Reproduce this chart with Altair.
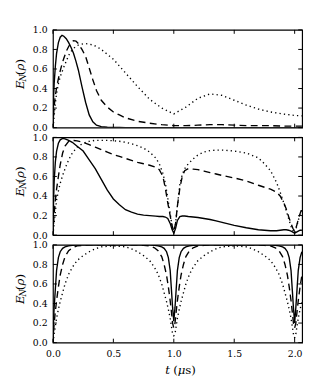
import altair as alt
import pandas as pd

# ---------------- data ----------------
# panel 1
T1 = [0, 0.005, 0.01, 0.02, 0.03, 0.045, 0.06, 0.075, 0.09, 0.11, 0.13, 0.15, 0.17, 0.19, 0.21,
      0.24, 0.27, 0.30, 0.33, 0.36, 0.40, 0.45, 0.50, 0.55, 0.60, 0.70, 0.80, 0.90, 1.0, 1.1,
      1.2, 1.3, 1.4, 1.5, 1.6, 1.7, 1.8, 1.9, 2.0, 2.06]
S1 = [0, 0.30, 0.45, 0.63, 0.76, 0.87, 0.925, 0.945, 0.935, 0.91, 0.87, 0.82, 0.76, 0.68, 0.59,
      0.42, 0.26, 0.13, 0.06, 0.025, 0.01, 0.004, 0.002, 0.001, 0, 0, 0, 0, 0, 0,
      0, 0, 0, 0, 0, 0, 0, 0, 0, 0]
D1 = [0, 0.12, 0.22, 0.33, 0.41, 0.50, 0.58, 0.65, 0.71, 0.78, 0.83, 0.87, 0.89, 0.885, 0.86,
      0.80, 0.73, 0.61, 0.49, 0.38, 0.28, 0.21, 0.16, 0.13, 0.10, 0.065, 0.045, 0.03, 0.02, 0.02,
      0.025, 0.03, 0.03, 0.025, 0.02, 0.02, 0.02, 0.015, 0.015, 0.015]
P1 = [0, 0.05, 0.12, 0.25, 0.35, 0.45, 0.52, 0.57, 0.62, 0.68, 0.74, 0.78, 0.81, 0.83, 0.845,
      0.855, 0.86, 0.855, 0.845, 0.83, 0.80, 0.75, 0.70, 0.63, 0.56, 0.42, 0.29, 0.20, 0.14, 0.21,
      0.30, 0.345, 0.33, 0.28, 0.23, 0.19, 0.16, 0.14, 0.125, 0.12]

# panel 2
T2 = [0, 0.005, 0.01, 0.02, 0.03, 0.045, 0.06, 0.08, 0.10, 0.13, 0.16, 0.20, 0.25, 0.30, 0.35,
      0.40, 0.45, 0.50, 0.55, 0.60, 0.65, 0.70, 0.75, 0.80, 0.85, 0.88, 0.91, 0.93, 0.95, 0.97,
      0.985, 1.0, 1.015, 1.03, 1.05, 1.07, 1.09, 1.12, 1.16, 1.20, 1.25, 1.30, 1.35, 1.40, 1.50,
      1.60, 1.70, 1.75, 1.80, 1.85, 1.88, 1.91, 1.93, 1.95, 1.97, 1.985, 2.0, 2.015, 2.03, 2.045,
      2.06]
S2 = [0, 0.35, 0.55, 0.75, 0.86, 0.94, 0.975, 0.99, 0.985, 0.97, 0.95, 0.91, 0.86, 0.77, 0.68,
      0.57, 0.46, 0.37, 0.31, 0.26, 0.235, 0.215, 0.205, 0.20, 0.195, 0.19, 0.19, 0.185, 0.17, 0.12,
      0.06, 0.02, 0.07, 0.15, 0.19, 0.195, 0.195, 0.19, 0.185, 0.18, 0.17, 0.16, 0.145, 0.13, 0.10,
      0.075, 0.055, 0.05, 0.045, 0.045, 0.05, 0.055, 0.055, 0.05, 0.04, 0.03, 0.02, 0.03, 0.04, 0.05,
      0.05]
D2 = [0, 0.12, 0.22, 0.36, 0.47, 0.60, 0.72, 0.84, 0.91, 0.96, 0.97, 0.965, 0.95, 0.925, 0.90,
      0.875, 0.85, 0.825, 0.805, 0.785, 0.765, 0.745, 0.73, 0.715, 0.695, 0.67, 0.60, 0.48, 0.33, 0.20,
      0.10, 0.04, 0.12, 0.30, 0.48, 0.60, 0.66, 0.68, 0.675, 0.67, 0.655, 0.64, 0.625, 0.61, 0.585,
      0.555, 0.51, 0.49, 0.47, 0.44, 0.40, 0.33, 0.27, 0.19, 0.12, 0.07, 0.04, 0.09, 0.16, 0.22,
      0.27]
P2 = [0, 0.06, 0.12, 0.24, 0.36, 0.45, 0.53, 0.61, 0.68, 0.77, 0.84, 0.90, 0.94, 0.96, 0.97,
      0.97, 0.97, 0.965, 0.96, 0.95, 0.935, 0.915, 0.89, 0.85, 0.79, 0.73, 0.63, 0.53, 0.38, 0.22,
      0.10, 0.02, 0.12, 0.30, 0.52, 0.62, 0.68, 0.73, 0.78, 0.82, 0.85, 0.865, 0.87, 0.87, 0.86,
      0.84, 0.79, 0.73, 0.66, 0.54, 0.44, 0.33, 0.25, 0.17, 0.09, 0.05, 0.02, 0.08, 0.15, 0.21,
      0.26]

# panel 3
T3 = [0, 0.005, 0.01, 0.02, 0.03, 0.045, 0.06, 0.08, 0.10, 0.13,
      0.16, 0.20, 0.25, 0.30, 0.35, 0.40, 0.50, 0.60, 0.65, 0.70,
      0.75, 0.80, 0.84, 0.87, 0.90, 0.92, 0.94, 0.955, 0.97, 0.98,
      0.99, 1.0, 1.01, 1.02, 1.03, 1.045, 1.06, 1.08, 1.10, 1.13,
      1.16, 1.20, 1.25, 1.30, 1.35, 1.40, 1.50, 1.60, 1.65, 1.70,
      1.75, 1.80, 1.84, 1.87, 1.90, 1.92, 1.94, 1.955, 1.97, 1.98,
      1.99, 2.0, 2.01, 2.02, 2.03, 2.045, 2.06]
S3 = [0, 0.22, 0.36, 0.55, 0.74, 0.87, 0.93, 0.965, 0.98, 0.99,
      0.995, 1, 1, 1, 1, 1, 1, 1, 1, 1,
      1, 1, 0.995, 0.99, 0.98, 0.965, 0.93, 0.87, 0.74, 0.55,
      0.36, 0.22, 0.36, 0.55, 0.74, 0.87, 0.93, 0.965, 0.98, 0.99,
      0.995, 1, 1, 1, 1, 1, 1, 1, 1, 1,
      1, 1, 0.995, 0.99, 0.98, 0.965, 0.93, 0.87, 0.74, 0.55,
      0.36, 0.20, 0.36, 0.55, 0.74, 0.87, 0.93]
D3 = [0, 0.10, 0.20, 0.32, 0.43, 0.57, 0.69, 0.80, 0.88, 0.94,
      0.97, 0.99, 0.995, 1, 1, 1, 1, 1, 1, 1,
      0.995, 0.99, 0.97, 0.94, 0.88, 0.80, 0.69, 0.57, 0.43, 0.32,
      0.20, 0.15, 0.20, 0.32, 0.43, 0.57, 0.69, 0.80, 0.88, 0.94,
      0.97, 0.99, 0.995, 1, 1, 1, 1, 1, 1, 1,
      0.995, 0.99, 0.97, 0.94, 0.88, 0.80, 0.69, 0.57, 0.43, 0.32,
      0.20, 0.15, 0.20, 0.32, 0.43, 0.57, 0.69]
P3 = [0, 0.04, 0.09, 0.17, 0.25, 0.34, 0.42, 0.51, 0.60, 0.70,
      0.77, 0.84, 0.89, 0.93, 0.96, 0.98, 0.99, 0.98, 0.96, 0.93,
      0.89, 0.84, 0.77, 0.70, 0.60, 0.51, 0.42, 0.34, 0.25, 0.17,
      0.09, 0.07, 0.09, 0.17, 0.25, 0.34, 0.42, 0.51, 0.60, 0.70,
      0.77, 0.84, 0.89, 0.93, 0.96, 0.98, 0.99, 0.98, 0.96, 0.93,
      0.89, 0.84, 0.77, 0.70, 0.60, 0.51, 0.42, 0.34, 0.25, 0.17,
      0.09, 0.05, 0.09, 0.17, 0.25, 0.34, 0.42]

X_TICKS = [0.0, 0.5, 1.0, 1.5, 2.0]
Y_TICKS = [0.0, 0.2, 0.4, 0.6, 0.8, 1.0]
X_DOMAIN = [0, 2.062]
Y_DOMAIN = [0, 1]

# ---------------- styling ----------------
W, H = 255, 100
FONT = "DejaVu Serif"
TICK_FS = 9.5
TITLE_FS = 12
LW = 1.4
DASH = [7, 4.5]
DOT = [1.3, 3.2]
TICK_LEN = 4

xs = alt.Scale(domain=X_DOMAIN, nice=False, zero=False)
ys = alt.Scale(domain=Y_DOMAIN, nice=False, zero=False)


def text_piece(txt, x, y, size, style="normal", angle=0):
    return alt.Chart(pd.DataFrame({"lbl": [txt]})).mark_text(
        font=FONT, fontSize=size, fontStyle=style, angle=angle,
        align="left", baseline="alphabetic", fill="black", color="black"
    ).encode(text="lbl:N", x=alt.value(x), y=alt.value(y))


def ylabel_layers():
    bx = -30
    return [
        text_piece("E", bx, 60.5, TITLE_FS, "italic", 270),
        text_piece("N", bx + 2.5, 52.9, 8.5, "italic", 270),
        text_piece("(", bx, 46.3, TITLE_FS, "normal", 270),
        text_piece("ρ", bx, 41.6, TITLE_FS, "italic", 270),
        text_piece(")", bx, 34.4, TITLE_FS, "normal", 270),
    ]


def xlabel_layers():
    by = 132.5
    x0 = 115
    return [
        text_piece("t", x0, by, TITLE_FS, "italic"),
        text_piece("(", x0 + 8.0, by, TITLE_FS, "normal"),
        text_piece("μ", x0 + 12.7, by, TITLE_FS, "italic"),
        text_piece("s", x0 + 20.3, by, TITLE_FS, "normal"),
        text_piece(")", x0 + 26.6, by, TITLE_FS, "normal"),
    ]


def panel(T, S, D, P, show_x):
    df = pd.DataFrame({"t": T, "s": S, "d": D, "p": P})
    xaxis = alt.Axis(values=X_TICKS, format=".1f", ticks=False, domain=False, grid=False,
                     labels=show_x, labelFont=FONT, labelFontSize=TICK_FS, labelPadding=6,
                     labelFlush=False, labelColor="black", title=None)
    yaxis = alt.Axis(values=Y_TICKS, format=".1f", ticks=False, domain=False, grid=False,
                     labelFont=FONT, labelFontSize=TICK_FS, labelPadding=6,
                     labelColor="black", title=None)
    X = lambda f: alt.X(f, scale=xs, axis=xaxis)
    Y = lambda f: alt.Y(f, scale=ys, axis=yaxis)
    base = alt.Chart(df)
    solid = base.mark_line(color="black", strokeWidth=LW, clip=True).encode(
        x=X("t:Q"), y=Y("s:Q"))
    dashed = base.mark_line(color="black", strokeWidth=LW, strokeDash=DASH, clip=True).encode(
        x=X("t:Q"), y=Y("d:Q"))
    dotted = base.mark_line(color="black", strokeWidth=LW, strokeDash=DOT, clip=True).encode(
        x=X("t:Q"), y=Y("p:Q"))

    xt = alt.Chart(pd.DataFrame({"t": X_TICKS}))
    yt = alt.Chart(pd.DataFrame({"s": Y_TICKS}))
    tick_top = xt.mark_rule(color="black", strokeWidth=1).encode(
        x=X("t:Q"), y=alt.value(0), y2=alt.value(TICK_LEN))
    tick_bot = xt.mark_rule(color="black", strokeWidth=1).encode(
        x=X("t:Q"), y=alt.value(H), y2=alt.value(H - TICK_LEN))
    tick_left = yt.mark_rule(color="black", strokeWidth=1).encode(
        y=Y("s:Q"), x=alt.value(0), x2=alt.value(TICK_LEN))
    tick_right = yt.mark_rule(color="black", strokeWidth=1).encode(
        y=Y("s:Q"), x=alt.value(W), x2=alt.value(W - TICK_LEN))

    layers = [solid, dashed, dotted, tick_top, tick_bot, tick_left, tick_right] + ylabel_layers()
    if show_x:
        layers += xlabel_layers()
    return alt.layer(*layers).properties(width=W, height=H)


p1 = panel(T1, S1, D1, P1, False)
p2 = panel(T2, S2, D2, P2, False)
p3 = panel(T3, S3, D3, P3, True)

chart = alt.vconcat(p1, p2, p3, spacing=10, bounds="flush").properties(
    padding={"left": 5, "top": 12, "right": 4, "bottom": 4},
    background="white",
).configure_view(stroke="black", strokeWidth=1.2)

chart.save("out.html", embed_options={"renderer": "svg", "actions": False})
